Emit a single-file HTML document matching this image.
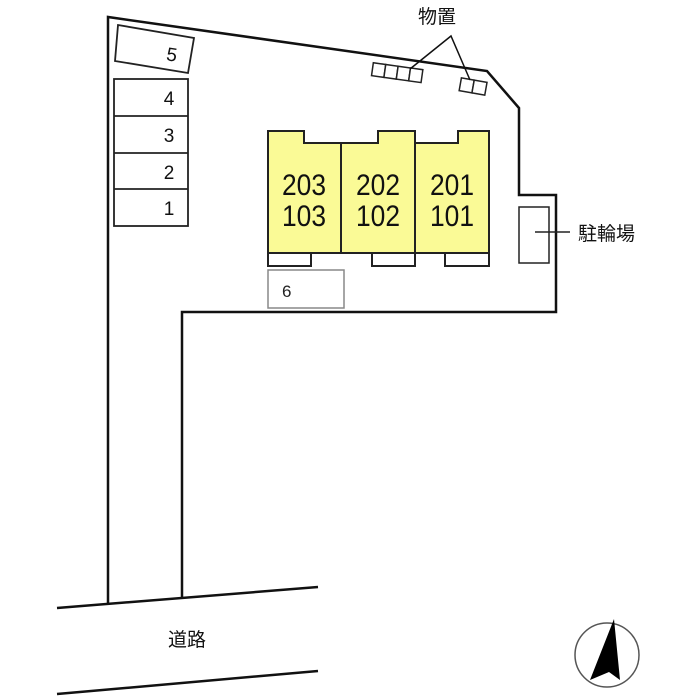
<!DOCTYPE html>
<html><head><meta charset="utf-8"><style>body{margin:0;background:#fff}svg{display:block}text{font-family:"Liberation Sans","Noto Sans CJK JP",sans-serif}</style></head><body>
<svg width="700" height="700" viewBox="0 0 700 700">
<g fill="none" stroke="#111" stroke-width="2.5">
<polyline points="108,604 108,17 487,71 519,108 519,195 556,195 556,312 182,312 182,598"/>
<line x1="57" y1="608" x2="318" y2="587"/>
<line x1="57" y1="694" x2="318" y2="671"/>
</g>
<g fill="#fff" stroke="#222" stroke-width="1.8">
<polygon points="118,25 194,38 188,73 115,61"/>
<rect x="114" y="79" width="74" height="147"/>
<line x1="114" y1="116" x2="188" y2="116"/><line x1="114" y1="153" x2="188" y2="153"/><line x1="114" y1="189" x2="188" y2="189"/>
</g>
<g font-size="19" fill="#111" text-anchor="middle">
<text x="172" y="61" transform="rotate(9 172 54)">5</text>
<text x="169" y="105">4</text><text x="169" y="142">3</text><text x="169" y="179">2</text><text x="169" y="215">1</text>
</g>
<g stroke="#222" stroke-width="2">
<polygon fill="#fafa96" points="268,131 304,131 304,143 378,143 378,131 415,131 415,143 458,143 458,131 489,131 489,253 268,253"/>
<line x1="341" y1="143" x2="341" y2="253"/><line x1="415" y1="143" x2="415" y2="253"/>
<g fill="#fff"><rect x="268" y="253" width="43" height="13"/><rect x="372" y="253" width="43" height="13"/><rect x="445" y="253" width="44" height="13"/></g>
</g>
<rect x="268" y="270" width="76" height="38" fill="#fff" stroke="#888" stroke-width="1.5"/>
<text x="282" y="297" font-size="17" fill="#222">6</text>
<g font-size="30" fill="#111" text-anchor="middle">
<g transform="translate(304 0) scale(0.88 1)"><text x="0" y="195">203</text><text x="0" y="226">103</text></g>
<g transform="translate(378 0) scale(0.88 1)"><text x="0" y="195">202</text><text x="0" y="226">102</text></g>
<g transform="translate(452 0) scale(0.88 1)"><text x="0" y="195">201</text><text x="0" y="226">101</text></g>
</g>
<g fill="#fff" stroke="#222" stroke-width="1.5">
<g transform="rotate(8 396 74)"><rect x="372" y="66" width="12.5" height="13"/><rect x="384.5" y="66" width="12.5" height="13"/><rect x="397" y="66" width="12.5" height="13"/><rect x="409.5" y="66" width="12.5" height="13"/></g>
<g transform="rotate(10 473 87)"><rect x="460" y="80" width="13" height="13"/><rect x="473" y="80" width="13" height="13"/></g>
</g>
<polyline points="410,69 451,36 470,80" fill="none" stroke="#111" stroke-width="1.5"/>
<text x="418" y="23" font-size="19" fill="#111">物置</text>
<rect x="519" y="207" width="30" height="56" fill="#fff" stroke="#222" stroke-width="1.5"/>
<line x1="535" y1="232" x2="570" y2="232" stroke="#222" stroke-width="1.5"/>
<text x="578" y="240" font-size="19" fill="#111">駐輪場</text>
<text x="168" y="646" font-size="19" fill="#111">道路</text>
<circle cx="607" cy="655" r="32" fill="none" stroke="#555" stroke-width="1.5"/>
<polygon points="614,619 620,680 609,672 590,680" fill="#000"/>
</svg>
</body></html>
